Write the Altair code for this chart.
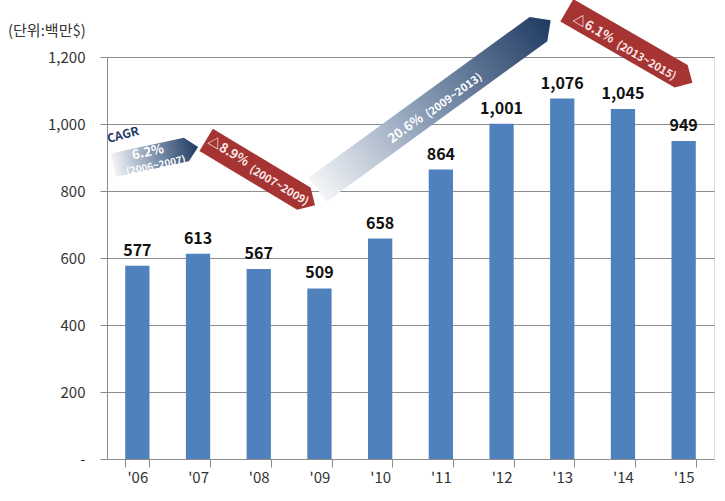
import altair as alt
import pandas as pd

# ---- data ----
years = ["'06", "'07", "'08", "'09", "'10", "'11", "'12", "'13", "'14", "'15"]
values = [577, 613, 567, 509, 658, 864, 1001, 1076, 1045, 949]

FONT = "Noto Sans CJK KR"
BAR = "#4F81BD"
RED = "#A53432"

df = pd.DataFrame({"year": years, "value": values})

xband = alt.X("year:N", sort=None, title=None,
              scale=alt.Scale(paddingInner=0.6, paddingOuter=0.3),
              axis=alt.Axis(labelAngle=0, tickBand="extent", tickSize=8,
                            labelPadding=3, labelFontSize=15, labelFont=FONT,
                            labelColor="#333333", domainColor="#8c8c8c",
                            tickColor="#8c8c8c", grid=False))
yq = alt.Y("value:Q", title=None,
           scale=alt.Scale(domain=[0, 1200], nice=False),
           axis=alt.Axis(values=[0, 200, 400, 600, 800, 1000, 1200],
                         labelExpr="datum.value == 0 ? '-' : format(datum.value, ',')",
                         tickSize=7, labelPadding=15, labelFontSize=15,
                         labelFont=FONT, labelColor="#333333",
                         domainColor="#8c8c8c", tickColor="#8c8c8c",
                         gridColor="#8c8c8c", gridWidth=1))

bars = alt.Chart(df).mark_bar(color=BAR).encode(x=xband, y=yq)
labels = alt.Chart(df).mark_text(
    dy=-10, baseline="alphabetic", fontWeight="bold", fontSize=16,
    font=FONT, color="#111111"
).encode(x=xband, y=yq, text=alt.Text("value:Q", format=","))

unit = alt.Chart(pd.DataFrame({"u": ["(단위:백만$)"]})).mark_text(
    align="left", baseline="alphabetic", fontSize=15, font=FONT, color="#333333"
).encode(x=alt.value(-99), y=alt.value(-21), text="u:N")

# ---- CAGR annotations (arrow centres in category/value units) ----
xq_scale = alt.Scale(domain=[-0.5, 9.5], nice=False, zero=False)


def xq(field):
    return alt.X(f"{field}:Q", scale=xq_scale, axis=None, title=None)


def arrow_shape(hw, head):
    return (f"M-1,{-hw} L{1 - head},{-hw} L1,0 L{1 - head},{hw} L-1,{hw} Z")


blue_grad = alt.LinearGradient(
    gradient="linear",
    stops=[alt.GradientStop(color="#f4f5f7", offset=0),
           alt.GradientStop(color="#8a9db6", offset=0.45),
           alt.GradientStop(color="#1f3a62", offset=1)],
    x1=0, x2=1, y1=0, y2=0)

arrows = [
    # (x, value, length px, width px, head px, angle, fill)
    (0.30, 904, 87, 24, 12, 348, blue_grad),
    (2.03, 855, 127, 26, 13, 31, RED),
    (4.89, 1057, 288, 30, 15, 324, blue_grad),
    (8.11, 1231, 145, 26, 13, 30, RED),
]

arrow_layers = []
for ax_, ay_, L, w, h, ang, fill in arrows:
    d = pd.DataFrame({"ax": [ax_], "value": [ay_]})
    arrow_layers.append(
        alt.Chart(d).mark_point(
            shape=arrow_shape(round(w / L, 4), round(2 * h / L, 4)),
            size=L * L, angle=ang, filled=True, fill=fill,
            opacity=1, strokeWidth=0
        ).encode(x=xq("ax"), y=yq)
    )

texts = pd.DataFrame({
    "tx": [-0.236, 0.175, 0.307, 1.50, 2.33, 4.42, 5.22, 7.52, 8.38],
    "value": [967, 916, 875, 918, 815, 986, 1084, 1284, 1188],
    "label": ["CAGR", "6.2%", "(2006~2007)", "△8.9%", "(2007~2009)",
              "20.6%", "(2009~2013)", "△6.1%", "(2013~2015)"],
    "kind": ["cagr", "big", "tiny", "big", "small", "big", "small", "big", "small"],
    "angle": [345, 348, 348, 31, 31, 324, 324, 30, 30],
    "tcolor": ["#1f3864", "#ffffff", "#ffffff", "#fbeaea", "#fbeaea",
               "#ffffff", "#ffffff", "#fbeaea", "#fbeaea"],
})

text_layers = []
for kind, size in [("cagr", 12), ("big", 13), ("small", 11), ("tiny", 10)]:
    text_layers.append(
        alt.Chart(texts[texts.kind == kind]).mark_text(
            fontSize=size, fontWeight="bold", font=FONT,
            align="center", baseline="middle"
        ).encode(
            x=xq("tx"), y=yq, text="label:N",
            angle=alt.Angle("angle:Q", scale=None),
            color=alt.Color("tcolor:N", scale=None)
        )
    )

base = alt.layer(bars, labels, unit)
annot = alt.layer(*arrow_layers, *text_layers)

chart = alt.layer(base, annot).resolve_scale(x="independent").properties(
    width=607, height=402,
    autosize=alt.AutoSizeParams(type="none"),
    padding={"left": 107, "top": 57, "right": 11, "bottom": 42},
).configure_view(strokeWidth=0, stroke="transparent").configure(background="white")

chart.save("out.html", embed_options={"renderer": "svg", "actions": False})
